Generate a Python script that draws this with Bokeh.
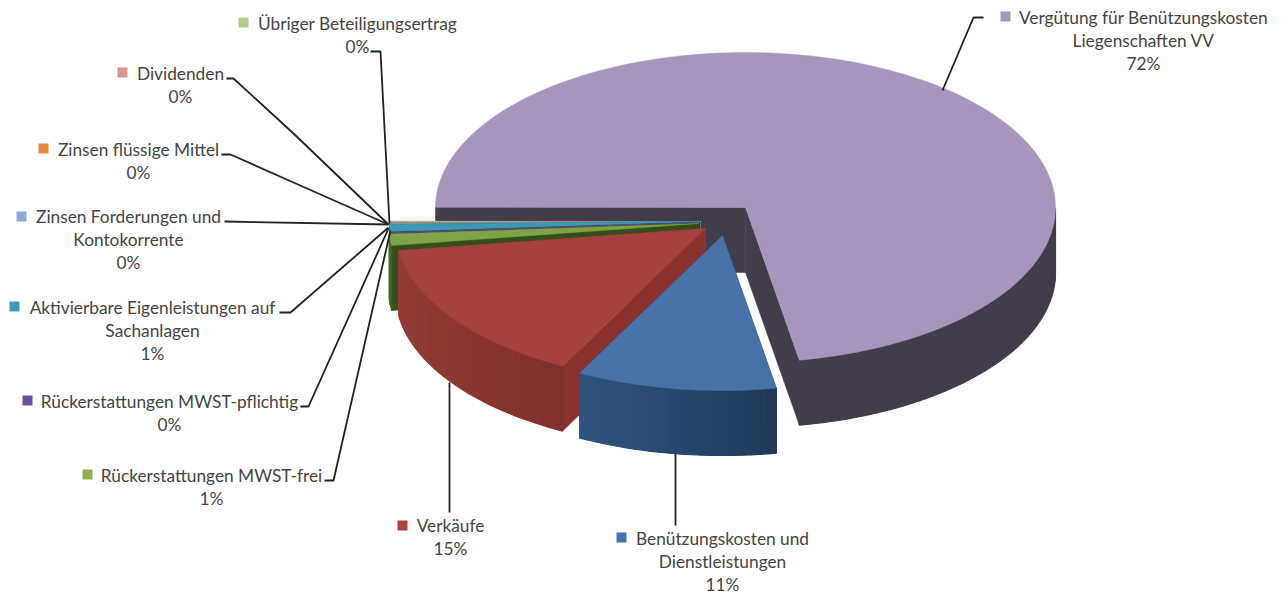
import math
from bokeh.plotting import figure
from bokeh.models import Range1d
from bokeh.core.properties import value
from bokeh.embed import file_html
from bokeh.resources import INLINE

# ---- data (share of total, percent) ----
names = ["Vergütung für Benützungskosten Liegenschaften VV", "Benützungskosten und Dienstleistungen", "Verkäufe",
         "Rückerstattungen MWST-frei", "Rückerstattungen MWST-pflichtig", "Aktivierbare Eigenleistungen auf Sachanlagen",
         "Zinsen Forderungen und Kontokorrente", "Zinsen flüssige Mittel", "Dividenden", "Übriger Beteiligungsertrag"]
shares = [72.2, 10.4, 15.1, 1.2, 0.05, 0.75, 0.1, 0.05, 0.05, 0.1]
label_pct = ["72%", "11%", "15%", "1%", "0%", "1%", "0%", "0%", "0%", "0%"]

# ---- styles / layout ----
top_col = ["#a796bb", "#4672a8", "#a5413f", "#7fa346", "#6f4f9c", "#3c9ab5", "#8dabd9", "#e5883c", "#d99694", "#c9c3a0"]
key_col = ["#a696bd", "#4472ad", "#b0423f", "#8fad4f", "#6f4f9c", "#3c9ab5", "#8dabd9", "#e5883c", "#d99694", "#b5cc8a"]
side_col = ["#433c4b", "#1f3a5c", "#8a3331", "#33501a", "#3f2c5c", "#1f5f72", "#5a6f90", "#8f5420", "#8f5f5e", "#78885a"]
wall_left = ["#5a5368", "#2f5581", "#933c39", "#4f7a27", "#3f2c5c", "#1f5f72", "#5a6f90", "#8f5420", "#8f5f5e", "#78885a"]
wall_right = ["#433c4a", "#20385b", "#7f302e", "#3a5a1c", "#3f2c5c", "#1f5f72", "#5a6f90", "#8f5420", "#8f5f5e", "#78885a"]
wall_falloff = [0.15, 1, 1, 1, 1, 1, 1, 1, 1, 1]
centers = [(745, 207), (722, 235), (705, 228), (698, 223), (699, 222), (699, 221), (700, 221), (700, 221), (700, 221), (700, 221)]
RX, RY, DEPTH = 310, 155, 65
START = -80.0

label_lines = [["Vergütung für Benützungskosten", "Liegenschaften VV"], ["Benützungskosten und", "Dienstleistungen"],
               ["Verkäufe"], ["Rückerstattungen MWST-frei"], ["Rückerstattungen MWST-pflichtig"],
               ["Aktivierbare Eigenleistungen auf", "Sachanlagen"], ["Zinsen Forderungen und", "Kontokorrente"],
               ["Zinsen flüssige Mittel"], ["Dividenden"], ["Übriger Beteiligungsertrag"]]
label_cx = [1143, 722, 450, 211, 169, 152, 128, 138, 180, 357]
label_y0 = [17, 538, 525, 475, 401, 307, 216, 149, 73, 23]
key_xy = [(1005, 16), (621, 537), (402, 525), (87, 474), (27, 400), (14, 306), (21, 216), (43, 148), (122, 72), (243, 22)]
LINE_H = 23

leader_x = [[983, 973, 942], [675, 675], [449, 449], [324, 333, 390], [300, 308, 388], [279, 290, 388],
            [224, 388], [221, 230, 293, 388], [226, 233, 293, 388], [370, 380, 389]]
leader_y = [[17, 17, 90], [453, 525], [382, 512], [480, 480, 230], [406, 406, 228], [312, 312, 227],
            [221, 224], [154, 154, 182, 224], [78, 78, 133, 224], [51, 51, 223]]

W, H = 1281, 594
p = figure(width=W, height=H, x_range=Range1d(0, W), y_range=Range1d(H, 0),
           output_backend="svg", toolbar_location=None, min_border=0)
p.axis.visible = False
p.grid.visible = False
p.outline_line_color = None
p.background_fill_color = "#ffffff"


def mix(a, b, f):
    ca = [int(a[i:i + 2], 16) for i in (1, 3, 5)]
    cb = [int(b[i:i + 2], 16) for i in (1, 3, 5)]
    return "#%02x%02x%02x" % tuple(round(x + (y - x) * f) for x, y in zip(ca, cb))


def pt(c, t, dz=0):
    r = math.radians(t)
    return c[0] + RX * math.cos(r), c[1] - RY * math.sin(r) + dz


# order round the pie, counter-clockwise from START (also back-to-front)
around = [0, 9, 8, 7, 6, 5, 4, 3, 2, 1]
spans = {}
a = START
for i in around:
    spans[i] = (a, a + shares[i] * 3.6)
    a += shares[i] * 3.6

for i in around:
    c = centers[i]
    t0, t1 = spans[i]
    # radial side walls
    for t in (t0, t1):
        e = pt(c, t)
        p.patch([c[0], e[0], e[0], c[0]], [c[1], e[1], e[1] + DEPTH, c[1] + DEPTH],
                fill_color=side_col[i], line_color=side_col[i], line_width=0.5)
    # rim, as shaded strips
    n = max(2, int((t1 - t0) / 1.5))
    ts = [t0 + (t1 - t0) * k / n for k in range(n + 1)]
    xs, ys, cols = [], [], []
    vis = [t for t in ts if math.sin(math.radians(t)) < 0.02]
    if vis:
        xa = [pt(c, t)[0] for t in vis]
        lo, hi = min(xa), max(xa)
    for u, v in zip(ts[:-1], ts[1:]):
        if math.sin(math.radians((u + v) / 2)) >= 0:
            continue
        pu, pv = pt(c, u), pt(c, v)
        xs.append([pu[0], pv[0], pv[0], pu[0]])
        ys.append([pu[1], pv[1], pv[1] + DEPTH, pu[1] + DEPTH])
        f = min(1.0, ((pu[0] + pv[0]) / 2 - lo) / max(hi - lo, 1) / wall_falloff[i])
        cols.append(mix(wall_left[i], wall_right[i], f))
    if xs:
        p.patches(xs, ys, fill_color=cols, line_color=cols, line_width=1.2)
    # top face
    pts = [pt(c, t) for t in ts]
    p.patch([c[0]] + [q[0] for q in pts], [c[1]] + [q[1] for q in pts], fill_color=top_col[i], line_color=top_col[i], line_width=0.5)

# leader lines
p.multi_line(leader_x, leader_y, line_color="#222222", line_width=1.8)

# labels
tx, ty, tt = [], [], []
for k in range(len(names)):
    rows = label_lines[k] + [label_pct[k]]
    for j, row in enumerate(rows):
        tx.append(label_cx[k])
        ty.append(label_y0[k] + j * LINE_H)
        tt.append(row)
p.text(tx, ty, text=tt, text_font=value("Lato"), text_font_size="17.3px", text_color="#444444",
       text_align="center", text_baseline="middle")

# legend keys
p.scatter([q[0] for q in key_xy], [q[1] for q in key_xy], marker="square", size=10, fill_color=key_col, line_color=None)

open("out.html", "w").write(file_html(p, INLINE))
